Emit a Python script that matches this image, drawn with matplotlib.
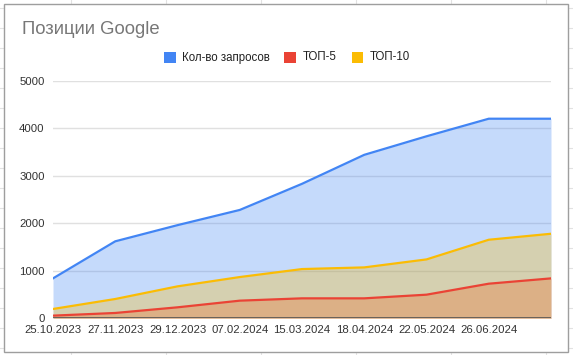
import matplotlib
matplotlib.use("Agg")
import matplotlib.pyplot as plt
import numpy as np
from matplotlib.lines import Line2D
from matplotlib.patches import Rectangle

# данные с графика
dates = ["25.10.2023", "27.11.2023", "29.12.2023", "07.02.2024", "15.03.2024",
         "18.04.2024", "22.05.2024", "26.06.2024", ""]
queries = [840, 1620, 1960, 2280, 2830, 3440, 3830, 4200, 4200]
top5 = [56, 112, 231, 371, 420, 420, 497, 728, 840]
top10 = [196, 406, 672, 868, 1036, 1071, 1239, 1653, 1779]
names = ["Кол-во запросов", "ТОП-5", "ТОП-10"]
colors = ["#4285F4", "#EA4335", "#FBBC04"]

W, H = 573, 355
fig = plt.figure(figsize=(W / 100, H / 100), dpi=100)


def fx(px):
    return px / W


def fy(py):
    return 1 - py / H


# сетка таблицы вокруг диаграммы
for cx in np.arange(70.5, W, 95):
    fig.add_artist(Line2D([fx(cx)] * 2, [0, 1], color="#e2e2e2", lw=0.8, zorder=-3))
for ry in np.arange(8, H, 20):
    fig.add_artist(Line2D([0, 1], [fy(ry)] * 2, color="#e2e2e2", lw=0.8, zorder=-3))
fig.add_artist(Rectangle((fx(4), fy(352)), fx(564), 348 / H, facecolor="white",
                         edgecolor="#9e9e9e", lw=1.0, zorder=-2))

ax = fig.add_axes([fx(53), fy(318.3), fx(551 - 53), (318.3 - 80.7) / H])
ax.set_facecolor("none")
x = np.arange(len(queries))

series = [queries, top5, top10]
for vals, c in zip(series, colors):
    ax.fill_between(x, 0, vals, color=c, alpha=0.3, lw=0, zorder=2)
for vals, c in zip(series, colors):
    ax.plot(x, vals, color=c, lw=1.6, zorder=3, solid_joinstyle="round")

ax.set_xlim(0, len(x) - 1)
ax.set_ylim(0, 5000)
ax.set_yticks([0, 1000, 2000, 3000, 4000, 5000])
ax.set_xticks(x[:-1])
ax.set_xticklabels(dates[:-1])
ax.grid(axis="y", color="#e0e0e0", lw=1.0, zorder=1)
ax.axhline(0, color="#555555", lw=1.2, zorder=4)
for s in ax.spines.values():
    s.set_visible(False)
ax.tick_params(length=0, labelsize=8.2, colors="#333333")
ax.tick_params(axis="x", pad=5)
ax.tick_params(axis="y", pad=6)
for lab in ax.get_xticklabels() + ax.get_yticklabels():
    lab.set_family("Liberation Sans")

fig.text(fx(22.5), fy(29.7), "Позиции Google", fontsize=13.3, color="#777777",
         family="Liberation Sans", va="center", ha="left")

# легенда
leg_sq = [164, 284, 351.5]
leg_tx = [182.5, 302.5, 369.5]
for n, c, sx, tx in zip(names, colors, leg_sq, leg_tx):
    fig.add_artist(Rectangle((fx(sx), fy(63.3)), fx(11.5), 11.5 / H,
                             facecolor=c, edgecolor="none"))
    fig.text(fx(tx), fy(57.5), n, fontsize=8.3, color="#222222",
             family="Liberation Sans", va="center", ha="left")

fig.savefig("out.png", dpi=100)
